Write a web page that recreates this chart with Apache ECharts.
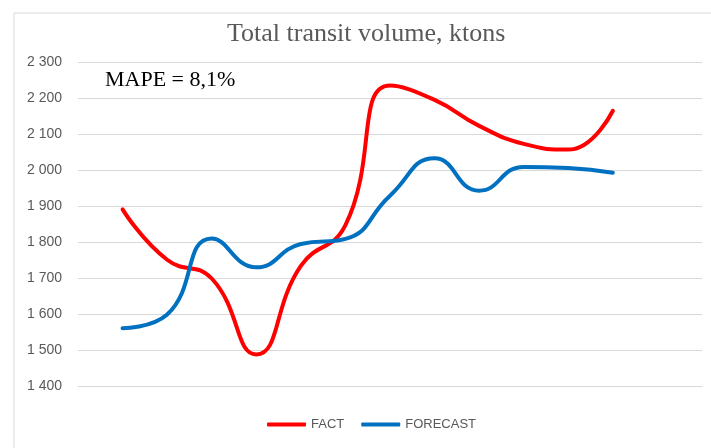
<!DOCTYPE html>
<html>
<head>
<meta charset="utf-8">
<script src="https://cdn.jsdelivr.net/npm/echarts@6/dist/echarts.min.js"></script>
<style>
  html, body { margin: 0; padding: 0; background: #fff; }
  #chart { width: 711px; height: 448px; }
</style>
</head>
<body>
<div id="chart"></div>
<script>
// periods on the x axis (labels hidden in the original); data sits in P1..P12
const periods = ['P0', 'P1', 'P2', 'P3', 'P4', 'P5', 'P6', 'P7', 'P8', 'P9', 'P10', 'P11', 'P12', 'P13', 'P14']
const fact = [1892, 1752, 1700, 1489, 1735, 1848, 2236, 2196, 2124, 2074, 2058, 2166]
const forecast = [1562, 1600, 1811, 1731, 1796, 1810, 1930, 2034, 1944, 2010, 2007, 1994]
const yTicks = [1400, 1500, 1600, 1700, 1800, 1900, 2000, 2100, 2200, 2300]

const pad = arr => [null].concat(arr, [null, null])
const fmt = v => String(v).replace(/\B(?=(\d{3})+(?!\d))/g, ' ')

let myChart = echarts.init(document.getElementById('chart'))

let opt = {
  animation: false,
  title: {
    text: 'Total transit volume, ktons',
    left: 227,
    top: 21,
    padding: 0,
    textStyle: {
      fontFamily: 'Liberation Serif',
      fontSize: 26,
      fontWeight: 'normal',
      color: '#595959'
    }
  },
  legend: {
    data: ['FACT', 'FORECAST'],
    left: 267,
    top: 418,
    padding: 0,
    itemGap: 17,
    itemWidth: 39,
    itemHeight: 4,
    icon: 'roundRect',
    textStyle: {
      fontFamily: 'Liberation Sans',
      fontSize: 13,
      color: '#595959'
    }
  },
  grid: {
    left: 78,
    right: 9,
    top: 62.5,
    bottom: 61.5,
    containLabel: false
  },
  xAxis: {
    type: 'category',
    data: periods,
    boundaryGap: false,
    axisLine: { show: true, lineStyle: { color: '#d9d9d9', width: 1 } },
    axisTick: { show: false },
    axisLabel: { show: false },
    splitLine: { show: false }
  },
  yAxis: {
    type: 'value',
    min: yTicks[0],
    max: yTicks[yTicks.length - 1],
    interval: 100,
    axisLine: { show: false },
    axisTick: { show: false },
    axisLabel: {
      margin: 16,
      fontFamily: 'Liberation Sans',
      fontSize: 14,
      color: '#595959',
      formatter: fmt
    },
    splitLine: { lineStyle: { color: '#d9d9d9', width: 1 } }
  },
  graphic: [
    {
      type: 'rect',
      left: 11.5,
      top: 10.5,
      shape: { x: 0, y: 0, width: 720, height: 460 },
      style: { fill: 'none', stroke: '#d9d9d9', lineWidth: 1 },
      silent: true
    },
    {
      type: 'rect',
      z: 100,
      shape: { x: 92, y: 63, width: 198, height: 34 },
      style: { fill: '#fff' },
      silent: true
    },
    {
      type: 'text',
      z: 101,
      x: 105,
      y: 80,
      style: {
        text: 'MAPE = 8,1%',
        fontFamily: 'Liberation Serif',
        fontSize: 22,
        fill: '#000',
        textVerticalAlign: 'middle'
      },
      silent: true
    }
  ],
  series: [
    {
      name: 'FACT',
      type: 'line',
      data: pad(fact),
      smooth: 0.5,
      showSymbol: false,
      symbol: 'none',
      itemStyle: { color: '#ff0000' },
      lineStyle: { color: '#ff0000', width: 4, cap: 'round' }
    },
    {
      name: 'FORECAST',
      type: 'line',
      data: pad(forecast),
      smooth: 0.5,
      showSymbol: false,
      symbol: 'none',
      itemStyle: { color: '#0070c0' },
      lineStyle: { color: '#0070c0', width: 4, cap: 'round' }
    }
  ]
}

myChart.setOption(opt)
</script>
</body>
</html>
